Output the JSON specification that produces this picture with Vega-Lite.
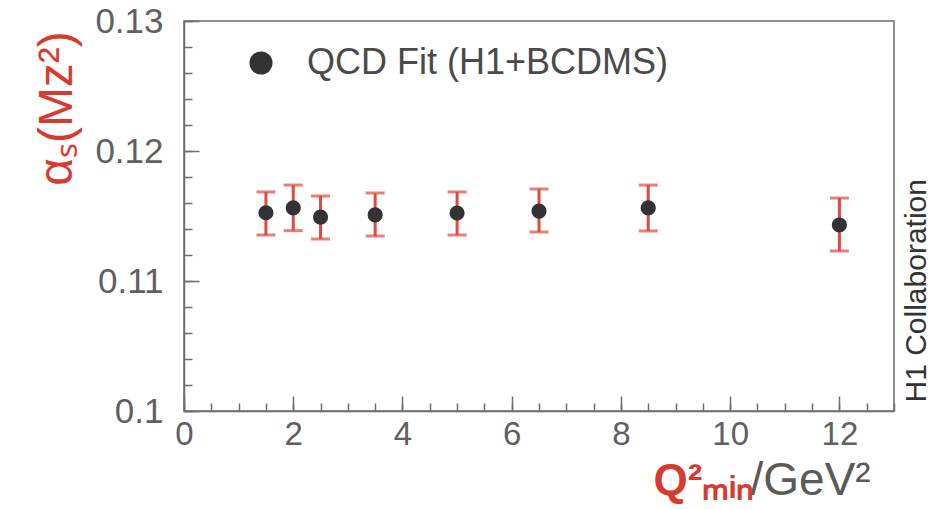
{
  "$schema": "https://vega.github.io/schema/vega-lite/v6.json",
  "width": 710,
  "height": 390,
  "autosize": {"type": "none"},
  "padding": {"left": 184, "top": 21, "right": 45, "bottom": 98},
  "background": "white",
  "config": {
    "font": "Liberation Sans",
    "view": {"stroke": "#6e6e6e", "strokeWidth": 1.5},
    "axis": {"grid": false, "tickColor": "#6e6e6e", "tickWidth": 1.5, "domainColor": "#6e6e6e", "domainWidth": 1.5, "labelFlush": false, "labelOverlap": false, "labelBound": false}
  },
  "data": {
    "values": [
      {"q2": 1.5, "alpha": 0.11525, "lo": 0.11354, "hi": 0.11685, "series": "QCD Fit (H1+BCDMS)"},
      {"q2": 2.0, "alpha": 0.11562, "lo": 0.11387, "hi": 0.11738, "series": "QCD Fit (H1+BCDMS)"},
      {"q2": 2.5, "alpha": 0.11492, "lo": 0.11323, "hi": 0.11654, "series": "QCD Fit (H1+BCDMS)"},
      {"q2": 3.5, "alpha": 0.11508, "lo": 0.11346, "hi": 0.11677, "series": "QCD Fit (H1+BCDMS)"},
      {"q2": 5.0, "alpha": 0.11523, "lo": 0.11354, "hi": 0.11685, "series": "QCD Fit (H1+BCDMS)"},
      {"q2": 6.5, "alpha": 0.11538, "lo": 0.11377, "hi": 0.11708, "series": "QCD Fit (H1+BCDMS)"},
      {"q2": 8.5, "alpha": 0.11562, "lo": 0.11385, "hi": 0.11738, "series": "QCD Fit (H1+BCDMS)"},
      {"q2": 12.0, "alpha": 0.11431, "lo": 0.11231, "hi": 0.11638, "series": "QCD Fit (H1+BCDMS)"}
    ]
  },
  "resolve": {"axis": {"x": "independent", "y": "independent"}},
  "layer": [
    {
      "mark": {"type": "rule", "color": "#e04a3f", "strokeWidth": 3},
      "encoding": {
        "x": {"field": "q2", "type": "quantitative", "scale": {"domain": [0, 13], "nice": false, "zero": false},
          "axis": {"orient": "bottom", "values": [0,0.5,1,1.5,2,2.5,3,3.5,4,4.5,5,5.5,6,6.5,7,7.5,8,8.5,9,9.5,10,10.5,11,11.5,12,12.5,13], "labels": false, "title": null, "tickSize": -8, "domain": false}},
        "y": {"field": "lo", "type": "quantitative", "scale": {"domain": [0.1, 0.13], "nice": false, "zero": false},
          "axis": {"orient": "left", "values": [0.1,0.102,0.104,0.106,0.108,0.11,0.112,0.114,0.116,0.118,0.12,0.122,0.124,0.126,0.128,0.13], "labels": false, "title": null, "tickSize": -8, "domain": false}},
        "y2": {"field": "hi"}
      }
    },
    {
      "mark": {"type": "tick", "orient": "horizontal", "size": 19, "thickness": 3, "color": "#e04a3f"},
      "encoding": {
        "x": {"field": "q2", "type": "quantitative",
          "axis": {"orient": "bottom", "ticks": false, "labels": false, "domain": false, "title": "Q²ₘᵢₙ", "titleColor": "#d93a30", "titleFontSize": 44, "titleFontWeight": "bold", "titleAlign": "left", "titleBaseline": "alphabetic", "titleX": 469, "titleY": 83}},
        "y": {"field": "hi", "type": "quantitative",
          "axis": {"orient": "right", "ticks": false, "labels": false, "domain": false, "title": "H1 Collaboration", "titleColor": "#333333", "titleFontSize": 30, "titleFontWeight": "normal", "titleAngle": 270, "titleAlign": "left", "titleBaseline": "alphabetic", "titleX": 31, "titleY": 381}}
      }
    },
    {
      "mark": {"type": "tick", "orient": "horizontal", "size": 19, "thickness": 3, "color": "#e04a3f"},
      "encoding": {
        "x": {"field": "q2", "type": "quantitative",
          "axis": {"orient": "bottom", "ticks": false, "labels": false, "domain": false, "title": "/GeV²", "titleColor": "#5a5a5a", "titleFontSize": 46, "titleFontWeight": "normal", "titleAlign": "left", "titleBaseline": "alphabetic", "titleX": 566, "titleY": 83}},
        "y": {"field": "lo", "type": "quantitative",
          "axis": {"orient": "left", "ticks": false, "labels": false, "domain": false, "title": "αₛ(Mz²)", "titleColor": "#d93a30", "titleFontSize": 48, "titleFontWeight": "normal", "titleAngle": 270, "titleAlign": "center", "titleBaseline": "alphabetic", "titleX": -113, "titleY": 87}}
      }
    },
    {
      "mark": {"type": "circle", "size": 230, "opacity": 1},
      "encoding": {
        "x": {"field": "q2", "type": "quantitative",
          "axis": {"orient": "bottom", "values": [0,2,4,6,8,10,12], "title": null, "tickSize": -15, "labelPadding": 22, "labelFontSize": 33, "labelColor": "#606060", "labelFontWeight": "normal"}},
        "y": {"field": "alpha", "type": "quantitative",
          "axis": {"orient": "left", "values": [0.1,0.11,0.12,0.13], "format": ".2~f", "title": null, "tickSize": -15, "labelPadding": 36, "labelFontSize": 35, "labelColor": "#606060", "labelFontWeight": "normal"}},
        "color": {"field": "series", "type": "nominal", "scale": {"range": ["#333333"]},
          "legend": {"orient": "none", "legendX": 59, "legendY": 24, "title": null, "symbolType": "circle", "symbolSize": 530, "symbolStrokeWidth": 0, "labelFontSize": 36, "labelColor": "#4a4a4a", "labelOffset": 28, "padding": 0, "labelLimit": 600}}
      }
    }
  ]
}
